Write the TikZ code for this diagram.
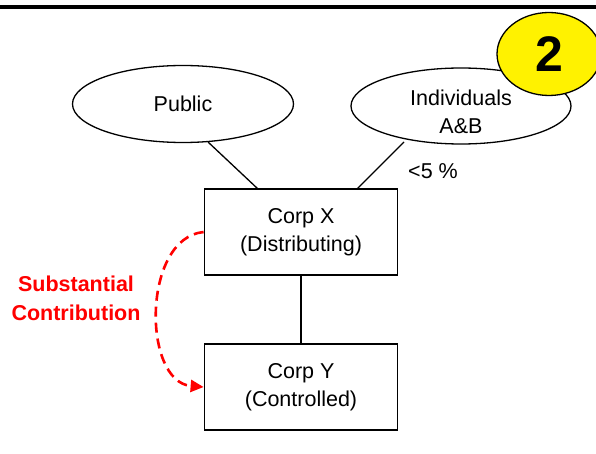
\documentclass[tikz,border=0pt]{standalone}
\usepackage{fontspec}
\setmainfont{Liberation Sans}
\usetikzlibrary{shapes.geometric,arrows.meta}
\begin{document}
\begin{tikzpicture}[x=1pt,y=-1pt,
  txt/.style={font=\fontsize{21.5}{28}\selectfont, align=center},
  oval/.style={draw, line width=1.3pt, ellipse, inner sep=0pt, txt},
  corp/.style={draw, line width=1.8pt, minimum width=193pt, minimum height=86pt, inner sep=0pt, txt},
  link/.style={line width=1.3pt}]
\useasboundingbox (0,0) rectangle (596,454);
\draw[line width=3.5pt] (0,7) -- (596,7);
\node[oval, minimum width=221pt, minimum height=77pt] (pub) at (183,104) {Public};
\node[oval, minimum width=220pt, minimum height=76pt,
  label={[txt, inner sep=0pt, yshift=-6pt]center:Individuals\\A\&B}] (ind) at (461,106) {};
\node[draw, line width=1.3pt, fill=yellow, ellipse, minimum width=104pt, minimum height=83pt, font=\bfseries\fontsize{50}{50}\selectfont] (num) at (549,54) {2};
\node[corp] (x) at (301,232) {Corp X\\(Distributing)};
\node[corp] (y) at (301,387) {Corp Y\\(Controlled)};
\coordinate (p1) at (208,142);
\coordinate (p2) at (258,189);
\coordinate (i1) at (404,142);
\coordinate (i2) at (357,189);
\draw[link] (p1) -- (p2);
\draw[link] (i1) -- (i2);
\draw[link] (x) -- (y);
\node[txt] (pct) at (433,171) {<5 \%};
\node[txt, text=red, font=\bfseries\fontsize{21.5}{29}\selectfont] (sc) at (76,298) {Substantial\\Contribution};
\draw[red, line width=2.6pt, dash pattern=on 10pt off 6pt, -{Triangle[length=13pt,width=12pt]}]
  (x.west |- 0,232) .. controls (142,238) and (142,382) .. (y.west |- 0,387);
\end{tikzpicture}
\end{document}
